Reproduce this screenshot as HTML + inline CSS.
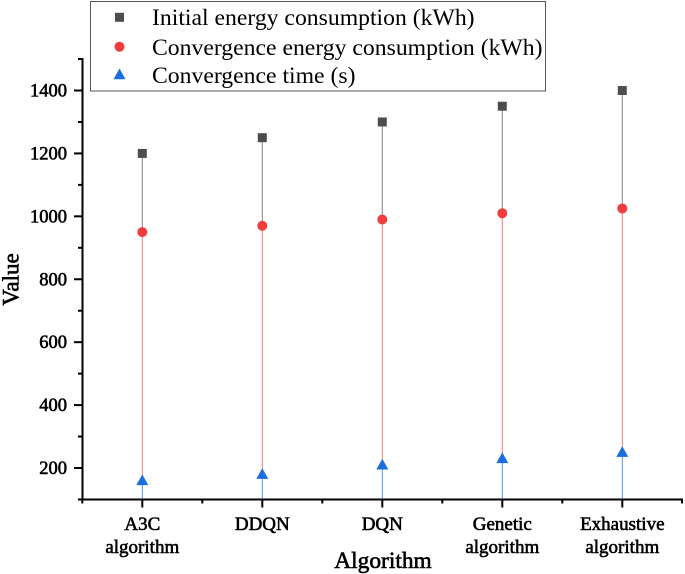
<!DOCTYPE html>
<html>
<head>
<meta charset="utf-8">
<style>
html,body{margin:0;padding:0;background:#fff;width:685px;height:574px;overflow:hidden}
svg{display:block}
text{font-family:"Liberation Serif",serif;fill:#000}
</style>
</head>
<body>
<svg id="chart" width="685" height="574" viewBox="0 0 685 574" xmlns="http://www.w3.org/2000/svg"></svg>
<script>
const categories = [["A3C","algorithm"],["DDQN"],["DQN"],["Genetic","algorithm"],["Exhaustive","algorithm"]];
const initialEnergy = [1200,1250,1300,1350,1400];
const convergenceEnergy = [950,970,990,1010,1025];
const convergenceTime = [160,180,210,230,250];
const yTickLabels = [200,400,600,800,1000,1200,1400];
const yMinorTicks = [100,300,500,700,900,1100,1300,1500];
const legendLabels = ["Initial energy consumption (kWh)","Convergence energy consumption (kWh)","Convergence time (s)"];

const svg = document.getElementById('chart');
const NS = 'http://www.w3.org/2000/svg';
function yScale(v){ return 468 - (v - 200) * 0.31458; }
function xScale(i){ return 142.3 + i * 120; }
function mk(tag, attrs, parent){
  const el = document.createElementNS(NS, tag);
  for (const k in attrs) el.setAttribute(k, attrs[k]);
  (parent || svg).appendChild(el);
  return el;
}
function square(cx, cy){
  return mk('rect', {x:cx-4.5, y:cy-4.5, width:9, height:9, fill:'#4d4d4d'});
}
function circle(cx, cy){
  return mk('circle', {cx:cx, cy:cy, r:5, fill:'#f33c3c'});
}
function triangle(cx, cy){
  return mk('polygon', {points:`${cx-6},${cy+4.6} ${cx+6},${cy+4.6} ${cx},${cy-6.2}`, fill:'#1a6fe0'});
}
const yBase = yScale(100);

categories.forEach((c, i) => {
  const x = xScale(i);
  const y1 = yScale(initialEnergy[i]), y2 = yScale(convergenceEnergy[i]), y3 = yScale(convergenceTime[i]);
  const l1 = mk('line', {x1:x, x2:x, y1:y1, y2:y2, stroke:'#808080', 'stroke-width':1});
  
  
  const l2 = mk('line', {x1:x, x2:x, y1:y2, y2:y3, stroke:'#f9777c', 'stroke-width':1});
  
  
  const l3 = mk('line', {x1:x, x2:x, y1:y3, y2:yBase, stroke:'#5198f2', 'stroke-width':1});
  
  
  const m1 = square(x, y1);
  
  
  const m2 = circle(x, y2);
  
  
  const m3 = triangle(x, y3);
  
  
});

/* axes */
const yAxis = mk('line', {x1:82.5, x2:82.5, y1:yScale(1500)-1, y2:yBase+1, stroke:'#000', 'stroke-width':2});


const xAxis = mk('line', {x1:81.5, x2:683, y1:yBase, y2:yBase, stroke:'#000', 'stroke-width':2});



const heavy = {stroke:'#000', 'stroke-width':0.6};
yTickLabels.forEach(v => {
  const y = yScale(v);
  const t = mk('line', {x1:74, x2:82, y1:y, y2:y, stroke:'#000', 'stroke-width':2});
  
  
  const lb = mk('text', {x:67, y:y+6, 'text-anchor':'end', 'font-size':18.5, ...heavy});
  lb.textContent = v;
  
  
});
yMinorTicks.forEach(v => {
  const y = yScale(v);
  const t = mk('line', {x1:78, x2:82, y1:y, y2:y, stroke:'#000', 'stroke-width':2});
  
  
});
categories.forEach((c, i) => {
  const x = xScale(i);
  const t = mk('line', {x1:x, x2:x, y1:yBase, y2:yBase+8, stroke:'#000', 'stroke-width':2});
  
  
  const mt = mk('line', {x1:x-60, x2:x-60, y1:yBase, y2:yBase+4, stroke:'#000', 'stroke-width':2});
  
  
  c.forEach((line, j) => {
    const lb = mk('text', {x:x, y:530 + j*23, 'text-anchor':'middle', 'font-size':19, ...heavy});
    lb.textContent = line;
    
    
  });
});
const endTick = mk('line', {x1:682, x2:682, y1:yBase, y2:yBase+4, stroke:'#000', 'stroke-width':2});



const xTitle = mk('text', {x:383, y:568, 'text-anchor':'middle', 'font-size':23.4, ...heavy});
xTitle.textContent = 'Algorithm';


const yTitle = mk('text', {x:0, y:0, 'text-anchor':'middle', 'font-size':23, ...heavy, transform:'translate(18.5,279.5) rotate(-90)'});
yTitle.textContent = 'Value';



/* legend */
const box = mk('rect', {x:90.5, y:1.5, width:455, height:89.5, fill:'#fff', stroke:'#555', 'stroke-width':1});


const legendMarkerY = [17.3, 46.7, 74.7];
const legendTextY = [25, 55, 83];
legendLabels.forEach((s, i) => {
  const y = legendMarkerY[i];
  const m = i === 0 ? square(119.5, y) : i === 1 ? circle(119.5, y) : triangle(119.5, y);
  
  
  const t = mk('text', {x:152, y:legendTextY[i], 'font-size':23.7});
  t.textContent = s;
  
  
});
</script>
</body>
</html>
